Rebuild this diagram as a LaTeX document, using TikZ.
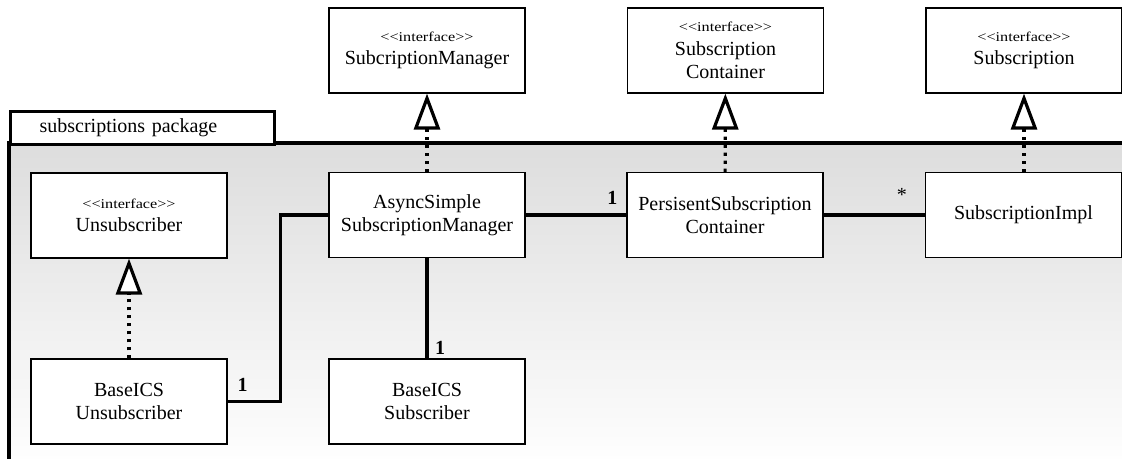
\documentclass[tikz,border=0pt]{standalone}
\usepackage{fontspec}
\setmainfont{Liberation Serif}
\newfontfamily\stereofont[FakeStretch=1.2]{Liberation Serif}
\usetikzlibrary{arrows.meta}
\definecolor{pkgtop}{RGB}{221,221,221}
\newcommand\ifacelabel[1]{{\stereofont\fontsize{13.5}{15}\selectfont <\kern0pt<#1>\kern0pt>}}
\begin{document}
\begin{tikzpicture}[x=1pt,y=-1pt,
  cls/.style={draw=black, line width=1.2pt, fill=white, minimum width=196pt,
    minimum height=85pt, inner sep=0pt, align=center,
    font=\fontsize{20}{23.5}\selectfont},
  pkgline/.style={line width=3.2pt},
  assoc/.style={line width=3.2pt},
  realize/.style={line width=3.2pt, dash pattern=on 3.2pt off 4.8pt,
    -{Triangle[fill=white, length=36pt, width=26pt, line width=3.2pt]}},
  mult/.style={font=\fontsize{20}{20}\selectfont\bfseries, inner sep=0pt},
  star/.style={font=\fontsize{20}{20}\selectfont, inner sep=0pt},
  ]
\useasboundingbox (0,0) rectangle (1122,458);
\clip (0,0) rectangle (1122,458);

% package body
\shade[top color=pkgtop, bottom color=white] (9,143) rectangle (1140,470);
\draw[pkgline] (9,470) -- (9,143) -- (1140,143);
\node[draw, pkgline, fill=white, anchor=north west, minimum width=264pt,
  minimum height=33pt, text width=206pt, align=left, inner xsep=0pt,
  font=\fontsize{20}{23}\selectfont] (tab) at (9,110) {subscriptions package};

% interfaces outside the package
\node[cls] (mgr)  at (427,50.5)    {\ifacelabel{interface}\\SubcriptionManager};
\node[cls] (cont) at (725.5,50.5)  {\ifacelabel{interface}\\Subscription\\Container};
\node[cls] (subs) at (1024,50.5)   {\ifacelabel{interface}\\Subscription};

% classes inside the package
\node[cls] (unsub) at (129,215.5)  {\ifacelabel{interface}\\Unsubscriber};
\node[cls] (async) at (427,215)    {AsyncSimple\\SubscriptionManager};
\node[cls] (pers)  at (725,215)    {PersisentSubscription\\Container};
\node[cls] (impl)  at (1023.5,215) {SubscriptionImpl};
\node[cls] (bu)    at (129,401.5)  {BaseICS\\Unsubscriber};
\node[cls] (bs)    at (427,401.5)  {BaseICS\\Subscriber};

% realizations
\draw[realize] (async) -- (mgr);
\draw[realize] (pers) -- (cont);
\draw[realize] (impl.north -| subs.south) -- (subs.south);
\draw[realize] (bu) -- (unsub);

% associations
\draw[assoc] (async.east) -- (pers.west);
\draw[assoc] (pers.east) -- (impl.west);
\draw[assoc] (async.south) -- (bs.north);
\draw[assoc] (bu.east) -- ++(53,0) |- (async.west);

% multiplicities
\node[mult] (m1) at ([xshift=-14pt,yshift=17pt]pers.west) {1};
\node[star] (m2) at ([xshift=-23pt,yshift=20pt]impl.west) {*};
\node[mult] (m3) at ([xshift=13pt,yshift=11pt]bs.north) {1};
\node[mult] (m4) at ([xshift=15pt,yshift=17pt]bu.east) {1};
\end{tikzpicture}
\end{document}
